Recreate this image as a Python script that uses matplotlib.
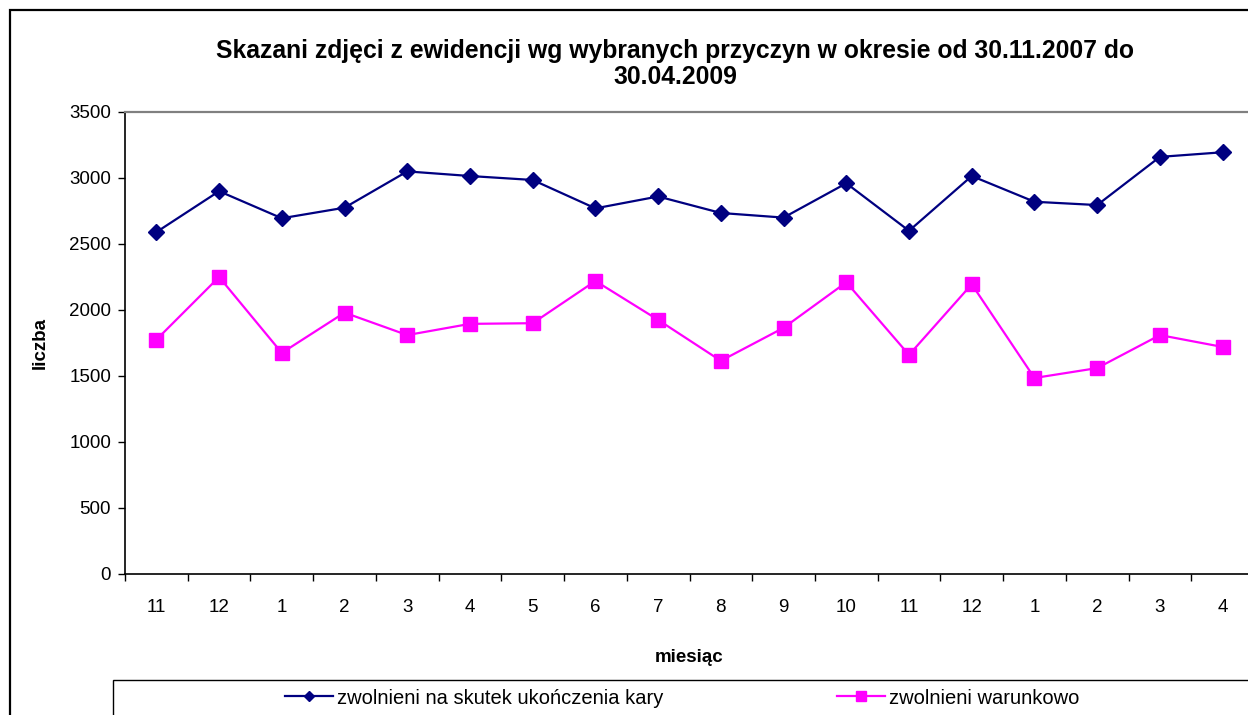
"""Skazani zdjęci z ewidencji wg wybranych przyczyn (11.2007 - 04.2009)."""
import matplotlib
matplotlib.use("Agg")
import matplotlib.pyplot as plt
from matplotlib.patches import Rectangle
from matplotlib.lines import Line2D

months = ["11", "12", "1", "2", "3", "4", "5", "6", "7", "8", "9", "10",
          "11", "12", "1", "2", "3", "4"]
koniec_kary = [2590, 2900, 2695, 2775, 3050, 3015, 2985, 2770, 2860, 2735,
               2700, 2960, 2600, 3015, 2820, 2795, 3160, 3195]
warunkowo = [1775, 2250, 1675, 1980, 1810, 1895, 1900, 2220, 1925, 1615,
             1865, 2210, 1660, 2195, 1485, 1560, 1810, 1720]

plt.rcParams["font.family"] = ["Liberation Sans", "DejaVu Sans"]

W, H = 1248, 715
FS = 13.5
fig = plt.figure(figsize=(W / 100, H / 100), dpi=100)

# outer chart border (cut off on right and bottom, like the source)
fig.patches.append(Rectangle((10 / W, -0.1), 1.2, 1 - 10 / H + 0.1,
                             transform=fig.transFigure, fill=False,
                             ec="black", lw=1.6, clip_on=False))

ax = fig.add_axes([125 / W, 1 - 574 / H, 1129 / W, 462 / H])
x = range(len(months))
ax.plot(x, koniec_kary, "-D", color="#000080", lw=1.6, ms=8,
        label="zwolnieni na skutek ukończenia kary")
ax.plot(x, warunkowo, "-s", color="#FF00FF", lw=1.6, ms=10,
        label="zwolnieni warunkowo")

ax.set_xlim(-0.5, len(months) - 0.5)
ax.set_ylim(0, 3500)
ax.set_yticks(range(0, 3501, 500))
ax.set_xticks([i + 0.5 for i in range(-1, len(months))], minor=False)
ax.set_xticklabels([])
ax.set_xticks(list(x), minor=True)
ax.set_xticklabels(months, minor=True)
ax.tick_params(axis="x", which="major", length=5, direction="out", width=1)
ax.tick_params(axis="x", which="minor", length=0, pad=18, labelsize=FS)
ax.tick_params(axis="y", length=5, direction="out", width=1, labelsize=FS,
               pad=5)
ax.spines["top"].set_color("#808080")
ax.spines["top"].set_linewidth(1.6)
ax.spines["right"].set_visible(False)
ax.spines["left"].set_linewidth(1.2)
ax.spines["bottom"].set_linewidth(1.2)

ax.set_ylabel("liczba", fontsize=FS, fontweight="bold", labelpad=15)
ax.set_xlabel("miesiąc", fontsize=FS, fontweight="bold", labelpad=24)
fig.text(675 / W, 1 - 64 / H,
         "Skazani zdjęci z ewidencji wg wybranych przyczyn w okresie od 30.11.2007 do\n30.04.2009",
         ha="center", va="center", fontsize=17.8, fontweight="bold",
         linespacing=1.12)

# legend box, also cut off by the image edge
fig.patches.append(Rectangle((113 / W, -0.1), 1.2, 0.1 + 1 - 680 / H,
                             transform=fig.transFigure, fill=False,
                             ec="black", lw=1.0, clip_on=False))
handles = [Line2D([], [], color="#000080", marker="D", lw=1.6, ms=5),
           Line2D([], [], color="#FF00FF", marker="s", lw=1.6, ms=7)]
fig.legend(handles, ["zwolnieni na skutek ukończenia kary", "zwolnieni warunkowo"],
           loc="center left", bbox_to_anchor=(285 / W, 1 - 698 / H), ncol=2,
           frameon=False, fontsize=14.5, handlelength=2.4, handletextpad=0.2,
           columnspacing=8.6, borderaxespad=0, borderpad=0)

fig.savefig("out.png", dpi=100)
